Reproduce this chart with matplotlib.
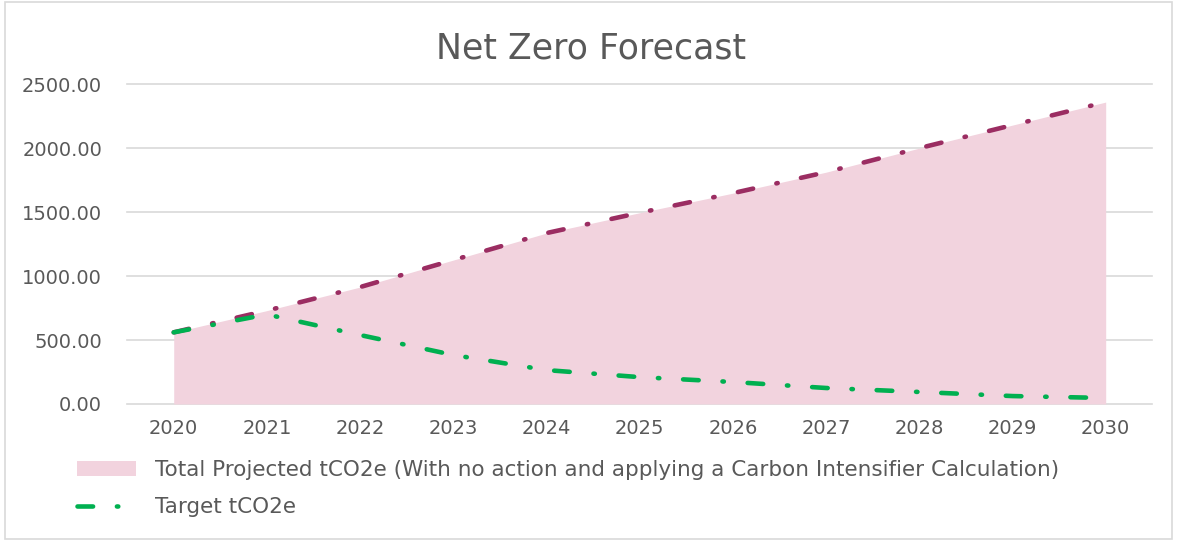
import matplotlib
matplotlib.use("Agg")
import matplotlib.pyplot as plt
from matplotlib.patches import Rectangle

# data
years = ["2020", "2021", "2022", "2023", "2024", "2025", "2026", "2027", "2028", "2029", "2030"]
total_proj = [560, 730, 914, 1125, 1336, 1495, 1648, 1812, 2000, 2180, 2360]
target = [560, 700, 539, 383, 265, 210, 172, 125, 94, 62, 47]
y_ticks = [0, 500, 1000, 1500, 2000, 2500]

txt = "#595959"
fill_col = "#F2D3DE"
mag = "#9B2D62"
grn = "#00B050"
dashdot = (3.4, 5.2, 0.3, 5.2)

plt.rcParams['font.family'] = ['DejaVu Sans']

fig = plt.figure(figsize=(11.77, 5.43), dpi=100)
ax = fig.add_axes([0.108, 0.256, 0.871, 0.589])

x = list(range(len(years)))
ax.fill_between(x, 0, total_proj, color=fill_col, linewidth=0,
                label="Total Projected tCO2e (With no action and applying a Carbon Intensifier Calculation)")
ax.plot(x, total_proj, color=mag, lw=3.3, dashes=dashdot, dash_capstyle="round")
ax.plot(x, target, color=grn, lw=3.3, dashes=dashdot, dash_capstyle="round", label="Target tCO2e")

ax.set_xlim(-0.5, len(years) - 0.5)
ax.set_ylim(0, 2500)
ax.set_xticks(x)
ax.set_xticklabels(years)
ax.set_yticks(y_ticks)
ax.set_yticklabels([f"{v:.2f}" for v in y_ticks])
ax.tick_params(length=0, labelsize=14, colors=txt)
ax.tick_params(axis="x", pad=11)
ax.tick_params(axis="y", pad=18)
ax.grid(axis="y", color="#D9D9D9", lw=1.2)
for gl in ax.get_ygridlines():
    gl.set_clip_on(False)
ax.set_axisbelow(True)
for s in ax.spines.values():
    s.set_visible(False)

fig.text(0.502, 0.893, "Net Zero Forecast", ha="center", va="baseline", fontsize=25, color=txt)

leg = fig.legend(loc="upper left", bbox_to_anchor=(0.065, 0.152), frameon=False,
                 fontsize=15.5, handlelength=2.75, handletextpad=0.9, labelspacing=0.78,
                 borderaxespad=0, borderpad=0)
for t in leg.get_texts():
    t.set_color(txt)

fig.patches.append(Rectangle((0.004, 0.008), 0.992, 0.988, transform=fig.transFigure,
                             fill=False, edgecolor="#D9D9D9", lw=1.2))

fig.savefig("out.png", dpi=100)
